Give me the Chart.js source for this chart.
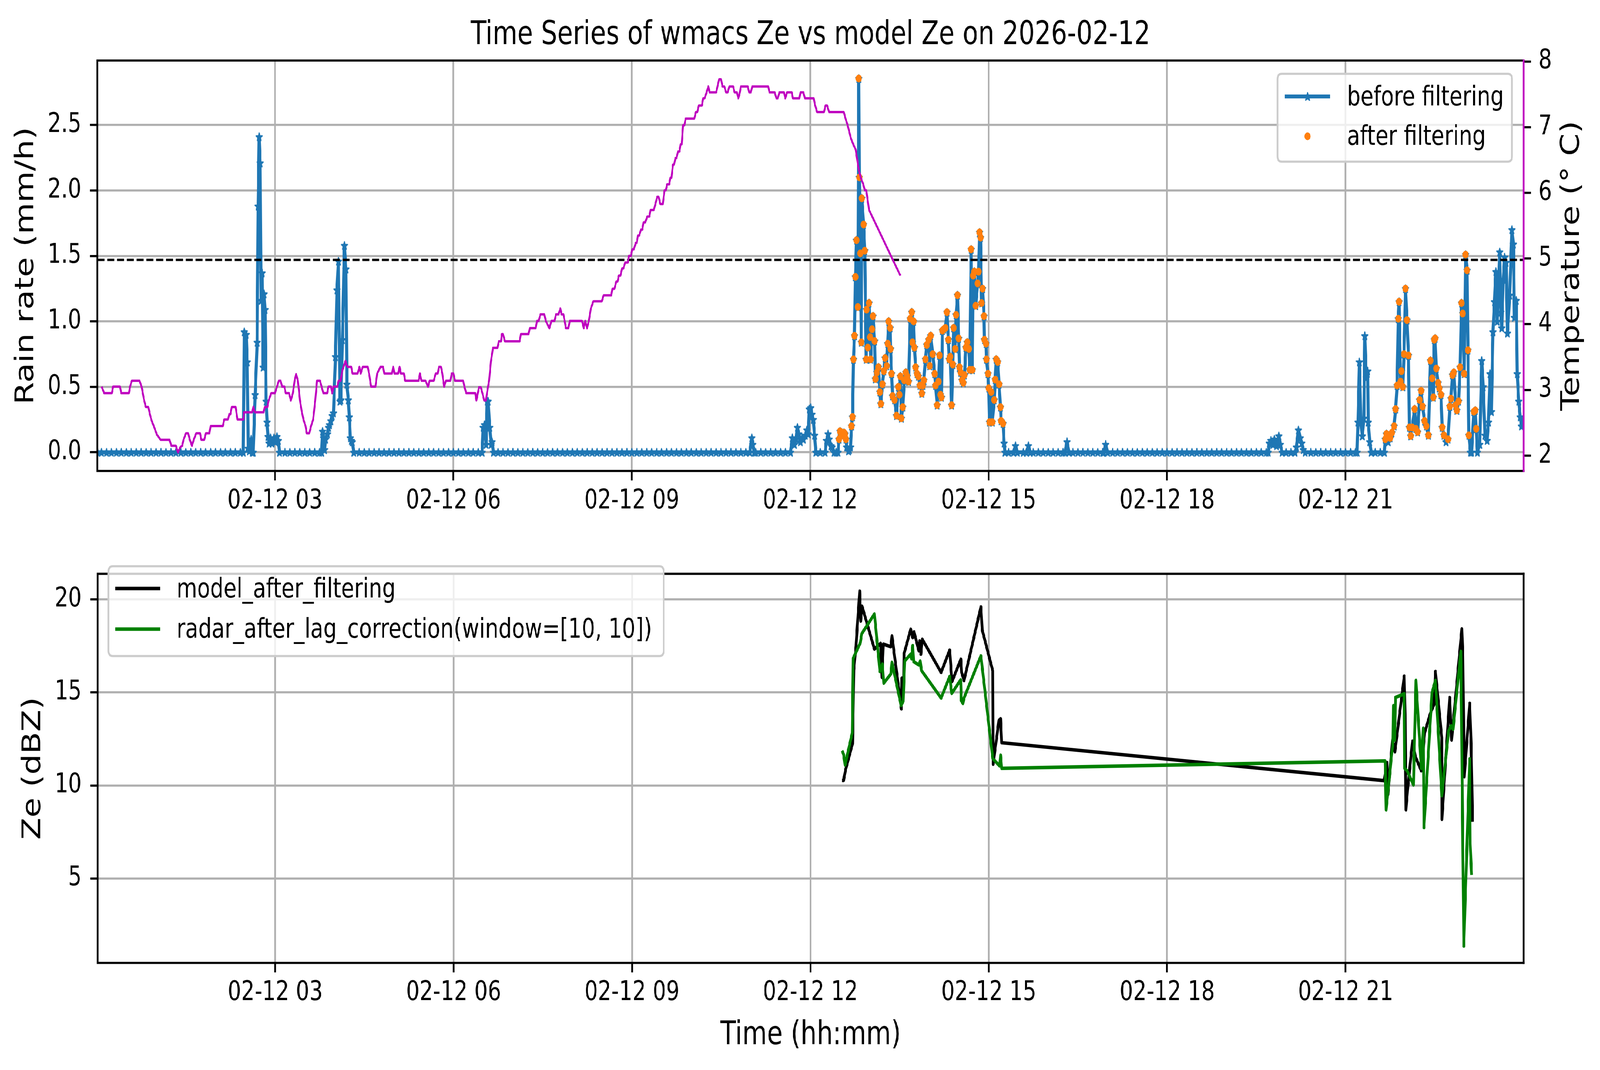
<!DOCTYPE html>
<html><head><meta charset="utf-8">
<script src="https://cdn.jsdelivr.net/npm/chart.js@4.4.1/dist/chart.umd.min.js"></script>
<style>
html,body{margin:0;padding:0;background:#fff;overflow:hidden;}
#wrap{position:absolute;left:0;top:0;width:5219px;height:2740px;background:#fff;transform-origin:0 0;}
canvas{position:absolute;left:0;}
</style></head><body>
<div id="wrap">
<canvas id="top" width="5219" height="1400" style="top:0;width:5219px;height:1400px"></canvas>
<canvas id="bot" width="5219" height="1340" style="top:1400px;width:5219px;height:1340px"></canvas>
</div>
<script>
// ---------------- data (x = minutes after 00:00 on 2026-02-12) ----------------
const xTickMinutes = [180, 360, 540, 720, 900, 1080, 1260];
const xTickLabels = ['02-12 03','02-12 06','02-12 09','02-12 12','02-12 15','02-12 18','02-12 21'];
const rainTicks = [0, 0.5, 1.0, 1.5, 2.0, 2.5];
const tempTicks = [2, 3, 4, 5, 6, 7, 8];
const zeTicks = [5, 10, 15, 20];
const rainThreshold = 1.47;
const filterWindows = [[748.5, 916], [1299.5, 1393.5]];
const filterMinRate = 0.09;

const rainReadings = [
[1,0],[5,0],[10,0],[15,0],[20,0],[25,0],[30,0],[35,0],[40,0],[45,0],[50,0],[55,0],[60,0],[65,0],[70,0],[75,0],[80,0],[85,0],[90,0],[95,0],[100,0],[105,0],[110,0],[115,0],[120,0],[125,0],[130,0],[135,0],[140,0],[145,0],[148,0],
[149,0.92],[151,0.90],[152,0.69],[153,0.03],[154,0.01],[156,0.10],[157,0],[158,0],[160,0.44],[162,0.84],[163,1.88],[164,2.41],[165,2.21],[166,1.16],[167,1.37],[168,0.65],[169,1.21],[170,1.09],[171,0.39],[172,0.23],[173,0.12],[174,0.07],[175.4,0.11],[177,0.07],[179,0.11],[180.5,0.08],[182,0.12],[183.4,0.09],[184.6,0],
[190,0],[195,0],[200,0],[205,0],[210,0],[215,0],[220,0],[225,0],[227,0],
[228,0.16],[229,0.11],[230,0.02],[231,0.10],[233,0.14],[234,0.19],[235,0.21],[236.4,0.24],[237.7,0.28],[239,0.30],[241,0.73],[242.5,1.24],[244,1.46],[245.5,0.39],[246.5,0.40],[248,0.86],[250,1.58],[251.5,1.40],[252.5,0.52],[254,0.40],[255,0.27],[256,0.11],[257,0.09],[258,0.08],[259.5,0],
[265,0],[270,0],[275,0],[280,0],[285,0],[290,0],[295,0],[300,0],[305,0],[310,0],[315,0],[320,0],[325,0],[330,0],[335,0],[340,0],[345,0],[350,0],[355,0],[360,0],[365,0],[370,0],[375,0],[380,0],[385,0],[389,0],
[390,0.19],[391.4,0.21],[393,0.06],[394,0.39],[395,0.39],[396.6,0.19],[398,0.06],[399,0.08],[400.4,0],
[405,0],[410,0],[415,0],[420,0],[425,0],[430,0],[435,0],[440,0],[445,0],[450,0],[455,0],[460,0],[465,0],[470,0],[475,0],[480,0],[485,0],[490,0],[495,0],[500,0],[505,0],[510,0],[515,0],[520,0],[525,0],[530,0],[535,0],[540,0],[545,0],[550,0],[555,0],[560,0],[565,0],[570,0],[575,0],[580,0],[585,0],[590,0],[595,0],[600,0],[605,0],[610,0],[615,0],[620,0],[625,0],[630,0],[635,0],[640,0],[645,0],[650,0],[655,0],[659,0],
[661,0.11],[662,0.06],[663.5,0],
[665,0],[670,0],[675,0],[680,0],[685,0],[690,0],[695,0],[700,0],
[702,0.11],[704,0.06],[705.6,0.10],[707,0.19],[708.4,0.14],[710,0.08],[711.5,0.11],[713,0.10],[715,0.13],[716.6,0.17],[718,0.14],[719,0.33],[720.5,0.34],[721.7,0.29],[723,0.25],[724.3,0.13],[725.6,0],
[730,0],[735,0],
[736.4,0.09],[738,0.14],[739,0.10],[741,0.05],[742,0.04],[744,0],[746,0],[748,0],
[749,0.10],[750,0.16],[751,0.14],[752,0.15],[753,0.13],[754,0.15],[755,0.14],[756,0.10],[756.7,0.04],[758.6,0.01],[759.6,0.02],[760.6,0.04],[761.6,0.20],[762.6,0.27],[763.6,0.71],[764.6,0.89],[765.5,1.34],[766.6,1.62],[768,1.11],[768.9,2.855],[769.5,2.10],[770.5,1.52],[771.5,0.84],[772,1.94],[773.8,1.74],[775,1.54],[776.4,0.71],[776.8,1.09],[778,0.80],[779.3,1.14],[780.4,0.88],[781,0.71],[782.3,0.94],[783.3,1.04],[784.9,0.85],[785.7,0.56],[787.2,0.61],[788.8,0.65],[790.2,0.46],[791.2,0.37],[792.8,0.52],[794.2,0.62],[795.5,0.72],[797.1,0.66],[798.1,0.83],[799.1,1.00],[800.6,0.95],[801,0.79],[802,0.60],[803,0.43],[805,0.40],[807,0.28],[808.9,0.50],[809.9,0.44],[810.9,0.58],[811.9,0.26],[813.3,0.345],[814.9,0.55],[816.4,0.61],[817.8,0.58],[819.2,0.54],[820.8,1.02],[822.4,1.07],[823.1,0.84],[824.3,1.00],[825.1,0.80],[826.3,0.65],[827.7,0.60],[829.1,0.58],[830.6,0.51],[832.6,0.45],[833.6,0.51],[834.6,0.55],[836.2,0.71],[837.5,0.82],[839.5,0.86],[840.5,0.66],[841.5,0.89],[843.5,0.75],[845.5,0.60],[846.4,0.51],[848,0.36],[849.4,0.54],[850.4,0.74],[851.3,0.44],[852.4,0.42],[853.3,0.93],[854.7,0.94],[856.3,0.95],[857.9,1.07],[859.3,0.86],[860.2,0.71],[861.2,0.73],[862.6,0.36],[863.8,0.67],[864.6,0.95],[866.2,0.79],[867.1,1.05],[868.5,1.20],[869.7,0.87],[870.5,0.65],[871.7,0.61],[873.1,0.55],[874.4,0.53],[875.6,0.59],[877,0.80],[878.4,0.84],[880,0.79],[880.9,0.63],[882.3,1.55],[883.5,0.63],[884.3,1.35],[885.5,1.38],[886.9,1.12],[888.8,1.29],[889.8,1.38],[890.8,1.68],[891.8,1.64],[892.8,1.14],[893.8,1.25],[895.3,1.04],[895.7,0.86],[897.3,0.83],[897.7,0.71],[899.3,0.60],[900,0.49],[900.8,0.23],[902.6,0.46],[903.6,0.23],[905.6,0.40],[906.6,0.555],[907.6,0.71],[909.1,0.69],[910.5,0.52],[911.9,0.345],[912.5,0.24],[914.5,0.22],[915.5,0.07],[916.4,0],
[920,0],[925,0],[927,0.05],[929,0],[935,0],[938,0],[940,0.05],[942,0],[945,0],[950,0],[955,0],[960,0],[965,0],[970,0],[975,0],[977,0],[979,0.08],[981,0],[985,0],[990,0],[995,0],[1000,0],[1005,0],[1010,0],[1015,0],[1016,0],[1018,0.06],[1020,0],[1025,0],[1030,0],[1035,0],[1040,0],[1045,0],[1050,0],[1055,0],[1060,0],[1065,0],[1070,0],[1075,0],[1080,0],[1085,0],[1090,0],[1095,0],[1100,0],[1105,0],[1110,0],[1115,0],[1120,0],[1125,0],[1130,0],[1135,0],[1140,0],[1145,0],[1150,0],[1155,0],[1160,0],[1165,0],[1170,0],[1175,0],[1180,0],[1182,0],
[1183,0.07],[1184.7,0.09],[1186.8,0.06],[1188.2,0.10],[1190.3,0.05],[1192.7,0.125],[1194.2,0.06],[1196,0],[1200,0],[1205,0],[1209,0],[1210.4,0.04],[1212.5,0.17],[1214.3,0.11],[1215.8,0.07],[1217.3,0.02],[1219.3,0],
[1225,0],[1230,0],[1235,0],[1240,0],[1245,0],[1250,0],[1255,0],[1260,0],[1265,0],[1270,0],[1271.7,0],
[1272.6,0.23],[1274,0.69],[1275.5,0.23],[1277,0.125],[1278.5,0.26],[1279.4,0.89],[1280.9,0.57],[1282.3,0.62],[1282.9,0.23],[1284.4,0.08],[1285.9,0],[1290,0],[1295,0],[1299.2,0],
[1300.1,0.10],[1301.3,0.14],[1303.1,0.08],[1305.1,0.11],[1306.8,0.15],[1309,0.20],[1310.5,0.33],[1312,0.51],[1313.2,1.02],[1314,1.15],[1315.5,0.54],[1316.4,0.62],[1317.8,0.50],[1319,0.75],[1320.5,1.25],[1322,1.01],[1323.5,0.74],[1324.4,0.19],[1325.8,0.125],[1327.2,0.19],[1329.7,0.33],[1330.9,0.18],[1332.7,0.155],[1334.7,0.40],[1336.2,0.47],[1337.7,0.35],[1339.7,0.24],[1341.5,0.20],[1343.6,0.13],[1345.7,0.70],[1347.4,0.565],[1348.6,0.42],[1349.5,0.86],[1350.4,0.87],[1351.6,0.64],[1353.4,0.53],[1354.6,0.49],[1356.3,0.44],[1357.5,0.19],[1359.3,0.13],[1361.3,0.08],[1363.4,0.10],[1365.2,0.35],[1366.4,0.41],[1367.9,0.59],[1369.3,0.61],[1371.1,0.36],[1372.3,0.32],[1374.1,0.39],[1375.6,0.65],[1377,1.14],[1378.2,1.06],[1379.7,0.60],[1381.1,1.51],[1382.6,1.39],[1383.5,0.78],[1384.4,0.13],[1385.9,0],[1387.2,0],[1389.4,0.31],[1390.9,0.32],[1391.8,0.18],[1393,0],[1395.4,0.06],[1397.4,0.70],[1398.9,0.50],[1400.7,0.13],[1402.8,0.09],[1404.2,0.23],[1405.7,0.60],[1407.2,0.31],[1408.7,0.92],[1410.2,1.15],[1411.6,1.38],[1413,1.00],[1415.5,1.53],[1416.7,1.07],[1417.6,0.95],[1419.1,1.32],[1420.5,1.49],[1422,1.45],[1423.4,0.91],[1425.6,1.20],[1427.9,1.70],[1429.4,1.59],[1430.3,1.03],[1432.3,1.16],[1433.2,0.60],[1434.7,0.39],[1436.2,0.27],[1437.4,0.20],[1439.2,0.25]
];

const temperatureReadings = [
[5.1,3.05],[7.7,2.95],[15.4,2.95],[16.7,3.05],[23.6,3.05],[24.9,2.95],[32.6,2.95],[33.8,3.05],[35.6,3.14],[43.3,3.14],[45.4,3.05],[48,2.84],[49.7,2.74],[52.2,2.74],[53.8,2.63],[55.6,2.53],[58.2,2.43],[60.8,2.32],[64.6,2.24],[73.6,2.24],[75.4,2.15],[80,2.15],[82.1,2.05],[84.6,2.13],[86.4,2.15],[87.7,2.24],[90.2,2.34],[92.4,2.34],[94.1,2.24],[96.2,2.15],[98,2.24],[100.5,2.34],[104.4,2.34],[105.7,2.24],[108.6,2.24],[110.3,2.34],[113.8,2.34],[115.1,2.45],[127.4,2.45],[128.8,2.55],[132.6,2.55],[133.9,2.63],[135,2.63],[136.4,2.74],[140.3,2.74],[142.1,2.55],[148,2.55],[148.7,2.66],[157,2.66],[158.2,2.74],[159.6,2.66],[168.5,2.66],[169.7,2.74],[172.3,2.74],[173.6,2.84],[176.2,2.95],[180,2.95],[182,3.05],[183.9,3.14],[185.6,3.14],[187.2,3.05],[189.5,3.05],[190.8,2.95],[194.2,2.95],[196,2.84],[198,2.95],[199.8,3.14],[201.3,3.24],[203.1,3.14],[205.2,2.84],[206.9,2.68],[208.7,2.55],[210.8,2.45],[212.1,2.34],[214.6,2.34],[216.4,2.45],[218.5,2.55],[220.6,2.84],[222.4,3.14],[225.4,3.14],[227,3.05],[228.8,2.95],[232.6,2.95],[233.9,3.05],[236.5,3.05],[237.7,2.95],[239,3.05],[242.9,3.05],[244.1,3.14],[246.2,3.14],[248,3.30],[251.1,3.44],[253.1,3.35],[256.9,3.35],[258.2,3.25],[263.4,3.25],[265.2,3.35],[266.5,3.25],[268.5,3.35],[273.6,3.35],[274.9,3.25],[277,3.05],[281.3,3.05],[283.1,3.25],[286.4,3.35],[289,3.35],[290.3,3.25],[298,3.25],[299.3,3.35],[300.5,3.25],[304.2,3.25],[305.7,3.35],[307,3.25],[310,3.25],[311.3,3.14],[324.9,3.14],[326.2,3.25],[327.7,3.14],[331.8,3.14],[334.4,3.05],[336,3.14],[340.2,3.14],[342.1,3.25],[344.2,3.25],[345.4,3.35],[347.4,3.35],[348.8,3.25],[350.6,3.05],[352.4,3.14],[357,3.14],[358.3,3.25],[360,3.25],[361.6,3.14],[369.8,3.14],[371.1,3.05],[372.9,2.95],[382,2.95],[383.2,2.84],[385.8,3.04],[387.6,3.04],[389.6,2.93],[391,2.84],[392.8,2.84],[394.8,3.04],[396,3.14],[397.8,3.43],[399.9,3.64],[404.5,3.64],[405.8,3.74],[408,3.74],[408.9,3.85],[410,3.85],[412,3.74],[426.8,3.74],[428.1,3.85],[435.8,3.85],[437.1,3.94],[443,3.94],[444.3,4.05],[446,4.05],[447.8,4.15],[451.7,4.15],[453.2,4.05],[456.8,3.94],[458.9,4.05],[462,4.05],[463.5,4.15],[466,4.15],[467.9,4.24],[469.1,4.15],[471,4.15],[472.2,4.05],[473.5,3.94],[476,3.94],[477.4,4.05],[489.7,4.05],[491.5,3.94],[493,4.05],[494.8,3.94],[496.6,4.05],[498.7,4.24],[501.2,4.35],[509.7,4.35],[511.5,4.44],[519.2,4.44],[520.4,4.54],[522.5,4.54],[524.3,4.65],[525.6,4.65],[526.9,4.74],[528.5,4.74],[530.2,4.85],[531.5,4.85],[533.3,4.94],[536,4.94],[537.1,5.04],[539,5.04],[540.4,5.14],[542,5.14],[544,5.24],[545,5.24],[546.1,5.35],[547.4,5.35],[549.2,5.44],[550.5,5.44],[551.8,5.55],[553.5,5.55],[555.6,5.64],[557.7,5.64],[558.9,5.74],[562.2,5.74],[564.1,5.85],[565.6,5.94],[567,5.94],[568.7,5.83],[571.3,5.83],[573,6.04],[574.3,6.04],[575.6,6.13],[577.7,6.13],[578.9,6.23],[580,6.23],[581.5,6.43],[582.6,6.43],[584,6.53],[585,6.53],[586.6,6.63],[588,6.63],[589.2,6.74],[590.3,6.74],[591.7,7.03],[593,7.03],[594.3,7.13],[603,7.13],[604.6,7.23],[606,7.23],[607.6,7.33],[610.7,7.33],[612,7.44],[613.4,7.44],[615.4,7.53],[617.2,7.62],[618.4,7.53],[625.1,7.53],[626.4,7.62],[628.1,7.73],[630,7.73],[631.5,7.62],[633.3,7.62],[635.1,7.53],[636.6,7.53],[638.4,7.62],[642.2,7.62],[643.6,7.53],[646,7.53],[647.4,7.44],[649,7.53],[650,7.62],[656.9,7.62],[658.4,7.53],[660,7.53],[661.5,7.62],[677.6,7.62],[678.9,7.53],[684.1,7.53],[685.9,7.44],[687.2,7.44],[688.9,7.53],[693.5,7.53],[694.8,7.44],[696.6,7.53],[701.3,7.53],[702.5,7.44],[709,7.44],[710.2,7.53],[713,7.53],[714.6,7.44],[723.5,7.44],[724.8,7.34],[726.9,7.23],[733.8,7.23],[735.4,7.33],[737,7.33],[739,7.23],[753.8,7.23],[755.6,7.13],[757.7,7.03],[759.5,6.92],[761,6.83],[763.6,6.73],[765.8,6.66],[768.9,6.35],[771,6.23],[773.5,6.13],[775,6.04],[776.5,6.04],[779.3,5.74],[810.9,4.74]
];

const modelZe = [
[751.9,10.27],[753.5,10.27],[755.6,10.87],[762.5,12.25],[763.8,16.2],[766,17.51],[769.7,20.45],[770.8,18.84],[772.1,19.64],[784.6,17.33],[790.8,17.64],[792.2,15.81],[793.6,17.6],[801.1,17.46],[802.3,18.04],[811.8,14.12],[812.2,15.77],[813.9,15.15],[814.4,17.06],[821.2,18.4],[823.2,17.95],[824.6,18.26],[829.4,17.24],[830.2,17.77],[831.5,17.06],[832.9,17.86],[851.9,16.08],[860.5,17.28],[862.9,15.59],[871.8,16.79],[872.6,16.08],[875,15.64],[892,19.6],[893.4,18.35],[904,16.17],[904.4,11.14],[910.2,13.5],[911.9,13.59],[913,12.3],
[1298.9,10.26],[1301.9,11.23],[1302.8,9.52],[1307.3,12.44],[1309.8,11.81],[1319.2,15.88],[1320.1,13.84],[1320.9,8.69],[1322.6,9.77],[1327.5,12.38],[1330.5,11.55],[1336.4,10.79],[1339.8,12.83],[1345.3,13.84],[1349.2,14.35],[1350.7,16.13],[1357.1,12.57],[1357.2,8.18],[1365,14.73],[1367,12.44],[1377.3,18.42],[1378.3,17.02],[1379.8,10.47],[1385.2,14.42],[1386.7,12.19],[1388.2,8.05]
];
const radarZe = [
[751.9,11.87],[753.5,11.67],[755,11.1],[762.2,12.83],[763.2,16.84],[770.4,17.68],[771.9,18.17],[784.6,19.22],[790.1,16.13],[792.6,16.53],[794,15.5],[801.1,15.99],[802.3,16.62],[811.5,14.3],[813.6,14.52],[815.2,16.7],[821.2,17.06],[822.1,16.81],[823.2,17.52],[824.2,16.66],[829.4,16.48],[830.8,16.69],[832.2,16.17],[851.9,14.7],[860.5,15.86],[862.6,14.95],[871.6,15.68],[872.2,14.57],[873.9,14.41],[875,14.7],[892,16.97],[904,11.45],[910.9,11.05],[911.9,11.63],[913,10.92],
[1299.9,11.32],[1300.9,8.69],[1307.8,12.32],[1308.3,14.29],[1309.6,12.44],[1310.3,14.73],[1319.2,14.93],[1319.6,10.92],[1322.1,10.79],[1328.5,10.03],[1331,15.65],[1336.4,10.92],[1338.4,13.08],[1339.1,7.74],[1347.2,14.99],[1350.7,15.65],[1357.1,9.45],[1364,12.95],[1366.5,13.21],[1368.5,13.02],[1376.3,17.21],[1379.3,1.37],[1385.2,11.43],[1385.7,6.85],[1387.2,5.19]
];

// ---------------- fit the 5219x2740 drawing to the window ----------------
(function () {
  const sx = window.innerWidth / 5219, sy = window.innerHeight / 2740;
  document.getElementById('wrap').style.transform = 'scale(' + sx + ',' + sy + ')';
})();

// ---------------- styling ----------------
const FONT = '"DejaVu Sans"';
const BLUE = '#1f77b4', ORANGE = '#ff7f0e', MAGENTA = '#bf00bf', GREEN = '#008000';
const xMin = 0.8, xMax = 1439.7;
const TICK = 69, LABEL = 83;
const GRID = {color:'#b0b0b0', lineWidth:5.6, tickColor:'#000', tickLength:24.3, tickWidth:5.6};

function drawStar(g, cx, cy, R, color) {
  const r = R * 0.382;
  g.beginPath();
  for (let i = 0; i < 10; i++) {
    const a = -Math.PI / 2 + i * Math.PI / 5, rad = (i % 2) ? r : R;
    g.lineTo(cx + rad * Math.cos(a), cy + rad * Math.sin(a));
  }
  g.closePath();
  g.fillStyle = color; g.fill();
  g.lineWidth = 3.5; g.lineJoin = 'round'; g.strokeStyle = color; g.stroke();
}
const starImg = document.createElement('canvas');
starImg.width = 30; starImg.height = 30;
drawStar(starImg.getContext('2d'), 15, 16, 10.5, BLUE);

const toXY = arr => arr.map(p => ({x: p[0], y: p[1]}));
const rainPts = toXY(rainReadings);
const filteredPts = rainPts.filter(p => p.y >= filterMinRate && filterWindows.some(w => p.x >= w[0] && p.x <= w[1]));

function vtext(ctx, text, cx, cy, size) {
  ctx.save(); ctx.translate(cx, cy); ctx.rotate(-Math.PI / 2);
  ctx.textAlign = 'center'; ctx.textBaseline = 'middle';
  ctx.font = size + 'px ' + FONT; ctx.fillStyle = '#000';
  ctx.fillText(text, 0, 0); ctx.restore();
}
function rrect(ctx, x, y, w, h, r) {
  ctx.beginPath();
  ctx.moveTo(x + r, y); ctx.lineTo(x + w - r, y); ctx.quadraticCurveTo(x + w, y, x + w, y + r);
  ctx.lineTo(x + w, y + h - r); ctx.quadraticCurveTo(x + w, y + h, x + w - r, y + h);
  ctx.lineTo(x + r, y + h); ctx.quadraticCurveTo(x, y + h, x, y + h - r);
  ctx.lineTo(x, y + r); ctx.quadraticCurveTo(x, y, x + r, y); ctx.closePath();
}
function legendBox(ctx, x0, y0, x1, y1) {
  rrect(ctx, x0, y0, x1 - x0, y1 - y0, 14);
  ctx.fillStyle = 'rgba(255,255,255,0.8)'; ctx.fill();
  ctx.lineWidth = 5.6; ctx.strokeStyle = '#cccccc'; ctx.stroke();
}
function spines(ctx, a, rightColor) {
  ctx.save(); ctx.lineWidth = 5.6; ctx.lineCap = 'square';
  ctx.strokeStyle = '#000';
  ctx.beginPath();
  ctx.moveTo(a.left, a.top); ctx.lineTo(a.right, a.top);
  ctx.moveTo(a.left, a.top); ctx.lineTo(a.left, a.bottom);
  ctx.moveTo(a.left, a.bottom); ctx.lineTo(a.right, a.bottom);
  ctx.stroke();
  ctx.strokeStyle = rightColor;
  ctx.beginPath(); ctx.moveTo(a.right, a.top); ctx.lineTo(a.right, a.bottom); ctx.stroke();
  ctx.restore();
}

function xScale(height) {
  return {
    type: 'linear', position: 'bottom', min: xMin, max: xMax,
    afterFit: s => { s.height = height; },
    afterBuildTicks: s => { s.ticks = xTickMinutes.map(v => ({value: v})); },
    ticks: {callback: v => xTickLabels[xTickMinutes.indexOf(v)], font: {family: FONT, size: TICK}, color: '#000', padding: 12, maxRotation: 0, autoSkip: false},
    grid: GRID, border: {display: false}
  };
}

const topDecor = {
  id: 'topDecor',
  afterDatasetsDraw(chart) { spines(chart.ctx, chart.chartArea, MAGENTA); },
  afterDraw(chart) {
    const ctx = chart.ctx, a = chart.chartArea;
    ctx.save();
    ctx.fillStyle = '#000'; ctx.font = LABEL + 'px ' + FONT; ctx.textAlign = 'center'; ctx.textBaseline = 'alphabetic';
    ctx.fillText('Time Series of wmacs Ze vs model Ze on 2026-02-12', (a.left + a.right) / 2, 113);
    vtext(ctx, 'Rain rate (mm/h)', 86, (a.top + a.bottom) / 2, LABEL);
    vtext(ctx, 'Temperature (° C)', 5128, (a.top + a.bottom) / 2, LABEL);
    // legend
    legendBox(ctx, 4167, 189, 4932, 414);
    ctx.strokeStyle = BLUE; ctx.lineWidth = 10; ctx.lineCap = 'butt';
    ctx.beginPath(); ctx.moveTo(4191, 247); ctx.lineTo(4339, 247); ctx.stroke();
    drawStar(ctx, 4265, 248, 10.5, BLUE);
    ctx.fillStyle = ORANGE; ctx.beginPath(); ctx.arc(4265, 349, 10, 0, Math.PI * 2); ctx.fill();
    ctx.fillStyle = '#000'; ctx.font = TICK + 'px ' + FONT; ctx.textAlign = 'left';
    ctx.fillText('before filtering', 4394, 270);
    ctx.fillText('after filtering', 4394, 371);
    ctx.restore();
  }
};
const botDecor = {
  id: 'botDecor',
  afterDatasetsDraw(chart) { spines(chart.ctx, chart.chartArea, '#000'); },
  afterDraw(chart) {
    const ctx = chart.ctx, a = chart.chartArea;
    ctx.save();
    vtext(ctx, 'Ze (dBZ)', 109, (a.top + a.bottom) / 2, LABEL);
    ctx.fillStyle = '#000'; ctx.font = LABEL + 'px ' + FONT; ctx.textAlign = 'center'; ctx.textBaseline = 'alphabetic';
    ctx.fillText('Time (hh:mm)', (a.left + a.right) / 2, 1274);
    legendBox(ctx, 354, 50, 2165, 280);
    ctx.lineWidth = 9; ctx.lineCap = 'butt';
    ctx.strokeStyle = '#000'; ctx.beginPath(); ctx.moveTo(376, 107); ctx.lineTo(523, 107); ctx.stroke();
    ctx.strokeStyle = GREEN; ctx.beginPath(); ctx.moveTo(376, 211); ctx.lineTo(523, 211); ctx.stroke();
    ctx.fillStyle = '#000'; ctx.font = TICK + 'px ' + FONT; ctx.textAlign = 'left';
    ctx.fillText('model_after_filtering', 576, 130);
    ctx.fillText('radar_after_lag_correction(window=[10, 10])', 576, 233);
    ctx.restore();
  }
};

new Chart(document.getElementById('top'), {
  type: 'line',
  data: {datasets: [
    {label: 'temperature', data: toXY(temperatureReadings), yAxisID: 'yT', borderColor: MAGENTA, borderWidth: 6, pointRadius: 0, tension: 0, borderJoinStyle: 'round', order: 0},
    {label: 'threshold', data: [{x: xMin, y: rainThreshold}, {x: xMax, y: rainThreshold}], yAxisID: 'y', borderColor: '#000', borderWidth: 6, borderDash: [23, 9], pointRadius: 0, order: 1},
    {label: 'after filtering', data: filteredPts, yAxisID: 'y', showLine: false, pointRadius: 10, pointBackgroundColor: ORANGE, pointBorderColor: ORANGE, pointBorderWidth: 0, order: 2},
    {label: 'before filtering', data: rainPts, yAxisID: 'y', borderColor: BLUE, backgroundColor: BLUE, borderWidth: 10, borderJoinStyle: 'round', pointStyle: starImg, pointRadius: 10, tension: 0, order: 3}
  ]},
  options: {
    responsive: false, animation: false, devicePixelRatio: 1, events: [],
    layout: {padding: {left: 0, right: 0, top: 155, bottom: 0}, autoPadding: false},
    plugins: {legend: {display: false}, tooltip: {enabled: false}, title: {display: false}},
    scales: {
      x: xScale(194),
      y: {type: 'linear', position: 'left', min: -0.1425, max: 2.9925,
        afterFit: s => { s.width = 317.6; },
        afterBuildTicks: s => { s.ticks = rainTicks.map(v => ({value: v})); },
        ticks: {callback: v => v.toFixed(1), font: {family: FONT, size: TICK}, color: '#000', padding: 28},
        grid: GRID, border: {display: false}},
      yT: {type: 'linear', position: 'right', min: 1.766, max: 8.015,
        afterFit: s => { s.width = 249; },
        afterBuildTicks: s => { s.ticks = tempTicks.map(v => ({value: v})); },
        ticks: {callback: v => String(v), font: {family: FONT, size: TICK}, color: '#000', padding: 24},
        grid: Object.assign({}, GRID, {drawOnChartArea: false}), border: {display: false}}
    }
  },
  plugins: [topDecor]
});

new Chart(document.getElementById('bot'), {
  type: 'line',
  data: {datasets: [
    {label: 'radar_after_lag_correction(window=[10, 10])', data: toXY(radarZe), borderColor: GREEN, borderWidth: 9, pointRadius: 0, tension: 0, borderJoinStyle: 'round', order: 0},
    {label: 'model_after_filtering', data: toXY(modelZe), borderColor: '#000', borderWidth: 9, pointRadius: 0, tension: 0, borderJoinStyle: 'round', order: 1}
  ]},
  options: {
    responsive: false, animation: false, devicePixelRatio: 1, events: [],
    layout: {padding: {left: 0, right: 249, top: 15.4, bottom: 0}, autoPadding: false},
    plugins: {legend: {display: false}, tooltip: {enabled: false}, title: {display: false}},
    scales: {
      x: xScale(274.2),
      y: {type: 'linear', position: 'left', min: 0.46, max: 21.38,
        afterFit: s => { s.width = 318.5; },
        afterBuildTicks: s => { s.ticks = zeTicks.map(v => ({value: v})); },
        ticks: {callback: v => String(v), font: {family: FONT, size: TICK}, color: '#000', padding: 28},
        grid: GRID, border: {display: false}},
      yT: undefined
    }
  },
  plugins: [botDecor]
});
</script>
</body></html>
